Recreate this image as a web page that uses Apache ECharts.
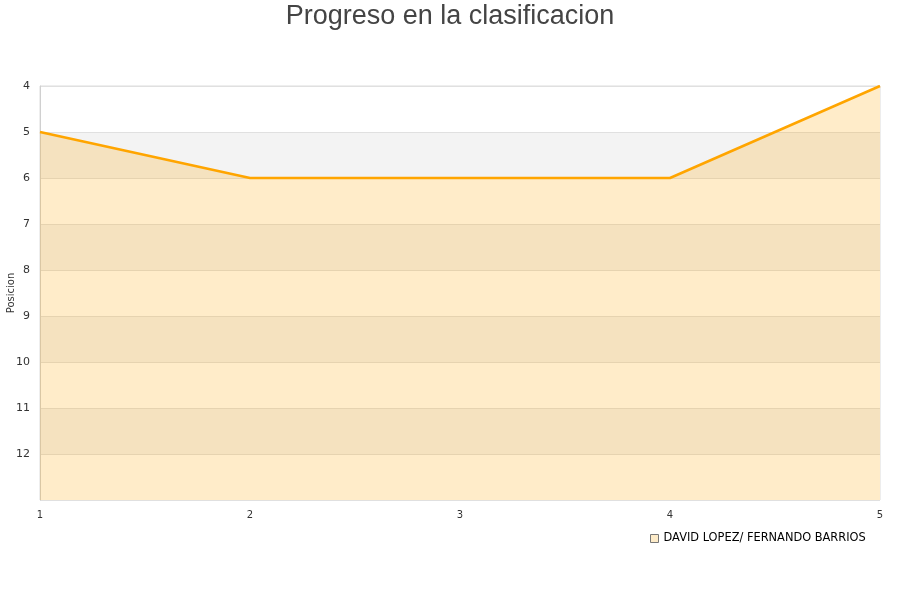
<!DOCTYPE html>
<html><head><meta charset="utf-8">
<script src="https://cdn.jsdelivr.net/npm/echarts@6/dist/echarts.min.js"></script>
<style>html,body{margin:0;padding:0;background:#fff}#c{width:900px;height:600px}</style>
</head><body><div id="c"></div>
<script>
const rounds = [1, 2, 3, 4, 5];
const positions = [5, 6, 6, 6, 4];
const seriesName = 'DAVID LOPEZ/ FERNANDO BARRIOS';
const titleText = 'Progreso en la clasificacion';
const yName = 'Posicion';

const chart = echarts.init(document.getElementById('c'), null, {renderer: 'canvas'});
chart.setOption({
  animation: false,
  backgroundColor: '#fff',
  title: {text: titleText, left: 'center', top: -2,
    textStyle: {fontFamily: 'Liberation Sans, Arial, sans-serif', fontSize: 27, fontWeight: 'normal', color: '#444'}},
  grid: {left: 40, right: 20, top: 86, bottom: 100, show: true, borderColor: '#dcdcdc', borderWidth: 1,
    backgroundColor: 'transparent', containLabel: false, outerBoundsMode: 'none'},
  legend: {data: [{name: seriesName, icon: 'rect', itemStyle: {color: '#fdebc8', borderColor: '#777', borderWidth: 1}}],
    left: 645, top: 528, itemWidth: 8, itemHeight: 8, itemGap: 7,
    textStyle: {fontFamily: 'DejaVu Sans, sans-serif', fontSize: 11.4, color: '#000'}},
  xAxis: {type: 'value', min: 1, max: 5, interval: 1,
    axisLine: {show: false}, axisTick: {show: false}, splitLine: {show: false},
    axisLabel: {fontFamily: 'DejaVu Sans, sans-serif', fontSize: 10, color: '#333', margin: 10}},
  yAxis: {type: 'value', inverse: true, min: 4, max: 13, interval: 1,
    name: yName, nameLocation: 'middle', nameGap: 24, nameRotate: 90, nameMoveOverlap: false,
    nameTextStyle: {fontFamily: 'DejaVu Sans, sans-serif', fontSize: 10, color: '#333'},
    axisLine: {show: true, lineStyle: {color: '#d0d0d0'}}, axisTick: {show: false},
    axisLabel: {fontFamily: 'DejaVu Sans, sans-serif', fontSize: 11, color: '#333', margin: 10, showMaxLabel: false,
      formatter: v => (v >= 13 ? '' : String(v))},
    splitLine: {show: true, lineStyle: {color: '#e0e0e0'}},
    splitArea: {show: true, areaStyle: {color: ['#ffffff', '#f3f3f3']}}},
  series: [{
    name: seriesName, type: 'line', data: rounds.map((r, i) => [r, positions[i]]),
    symbol: 'none', lineStyle: {color: '#ffa500', width: 2.5}, itemStyle: {color: '#ffa500'},
    areaStyle: {color: 'rgba(255,165,0,0.21)', opacity: 1, origin: 'end'}
  }]
});
</script></body></html>
